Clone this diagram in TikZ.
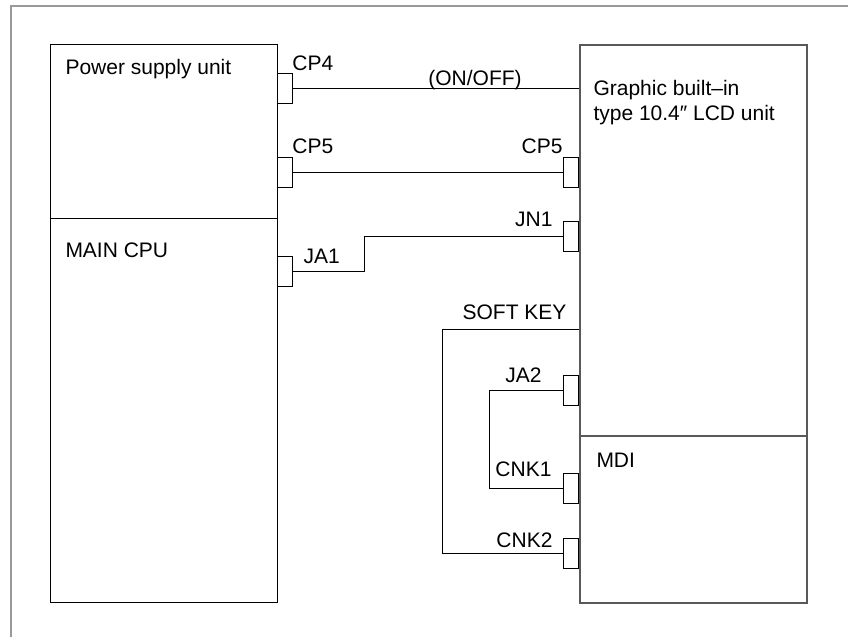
\documentclass[tikz,border=0pt]{standalone}
\usepackage{fontspec}
\setmainfont{Liberation Sans}
\begin{document}
\begin{tikzpicture}[x=0.5pt, y=-0.5pt, line width=0.5pt,
  unitbox/.style={draw, minimum width=113.5pt, anchor=north west, inner sep=0pt},
  plug/.style={draw, fill=white, minimum width=7.5pt, minimum height=15pt, inner sep=0pt},
  txt/.style={inner sep=0pt, font=\fontsize{10.5}{12.5}\selectfont}]
\useasboundingbox (0,0) rectangle (848,637);
% frame
\draw[black!40, line width=1pt] (11,637) -- (11,6) -- (848,6);
% units
\node[unitbox, minimum height=87pt] (psu) at (50,44) {};
\node[unitbox, minimum height=192pt] (cpu) at (50,218) {};
\node[unitbox, draw=black!65, line width=0.75pt, minimum height=195.5pt] (lcd) at (579,44) {};
\node[unitbox, draw=black!65, line width=0.75pt, minimum height=83.5pt] (mdi) at (579,435) {};
\node[txt, anchor=base west] (psutxt) at (65,75) {Power supply unit};
\node[txt, anchor=base west] (cputxt) at (65,257) {MAIN CPU};
\node[txt, anchor=base west, align=left] (lcdtxt) at (593,120) {Graphic built–in\\type 10.4″ LCD unit};
\node[txt, anchor=base west] (mditxt) at (596,467) {MDI};
% connectors
\node[plug, anchor=west] (cp4a) at (277,88.5) {};
\node[plug, anchor=west] (cp5a) at (277,172.5) {};
\node[plug, anchor=west] (ja1) at (277,271) {};
\node[plug, anchor=east] (cp5b) at (579,172.5) {};
\node[plug, anchor=east] (jn1) at (579,236.5) {};
\node[plug, anchor=east] (ja2) at (579,390.5) {};
\node[plug, anchor=east] (cnk1) at (579,488) {};
\node[plug, anchor=east] (cnk2) at (579,553.5) {};
\node[txt, anchor=base west] (cp4atxt) at (292,70) {CP4};
\node[txt, anchor=base west] (cp5atxt) at (292,153) {CP5};
\node[txt, anchor=base west] (ja1txt) at (303,263) {JA1};
\node[txt, anchor=base east] (cp5btxt) at (563,153) {CP5};
\node[txt, anchor=base east] (jn1txt) at (553,227) {JN1};
\node[txt, anchor=base east] (softtxt) at (567,319) {SOFT KEY};
\node[txt, anchor=base east] (ja2txt) at (542,382) {JA2};
\node[txt, anchor=base east] (cnk1txt) at (552,476) {CNK1};
\node[txt, anchor=base east] (cnk2txt) at (553,547) {CNK2};
\node[txt, anchor=base] (onofftxt) at (475,85) {(ON/OFF)};
% cables
\coordinate (ja1bend) at (364,0);
\coordinate (softkey) at (579,329);
\coordinate (skbend) at (442,0);
\coordinate (ja2bend) at (489,0);
\draw (cp4a.east) -- (cp4a.east -| lcd.west);
\draw (cp5a.east) -- (cp5b.west);
\draw (ja1.east) -- (ja1.east -| ja1bend) |- (jn1.west);
\draw (softkey) -- (softkey -| skbend) |- (cnk2.west);
\draw (ja2.west) -- (ja2.west -| ja2bend) |- (cnk1.west);
\end{tikzpicture}
\end{document}
